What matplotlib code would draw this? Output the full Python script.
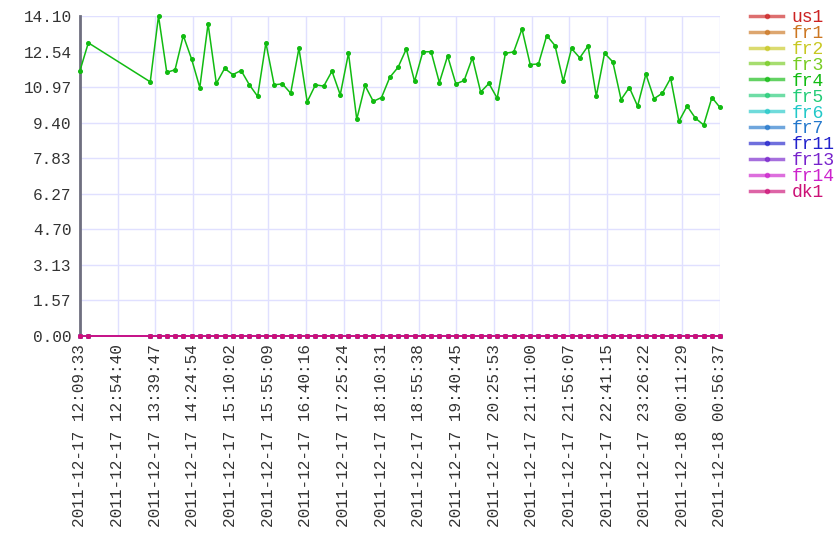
import numpy as np
import pandas as pd
import matplotlib
matplotlib.use("Agg")
import matplotlib.pyplot as plt
import matplotlib.dates as mdates

# timestamps of the samples
times = [
    "2011-12-17 12:09:33", "2011-12-17 12:19:33",
    "2011-12-17 13:33:45", "2011-12-17 13:43:39", "2011-12-17 13:53:33", "2011-12-17 14:03:27",
    "2011-12-17 14:13:21", "2011-12-17 14:23:15", "2011-12-17 14:33:09", "2011-12-17 14:43:03",
    "2011-12-17 14:52:57", "2011-12-17 15:02:51", "2011-12-17 15:12:45", "2011-12-17 15:22:39",
    "2011-12-17 15:32:33", "2011-12-17 15:42:27", "2011-12-17 15:52:21", "2011-12-17 16:02:15",
    "2011-12-17 16:12:09", "2011-12-17 16:22:03", "2011-12-17 16:31:57", "2011-12-17 16:41:51",
    "2011-12-17 16:51:45", "2011-12-17 17:01:39", "2011-12-17 17:11:33", "2011-12-17 17:21:27",
    "2011-12-17 17:31:21", "2011-12-17 17:41:15", "2011-12-17 17:51:09", "2011-12-17 18:01:03",
    "2011-12-17 18:10:57", "2011-12-17 18:20:51", "2011-12-17 18:30:45", "2011-12-17 18:40:39",
    "2011-12-17 18:50:33", "2011-12-17 19:00:27", "2011-12-17 19:10:21", "2011-12-17 19:20:15",
    "2011-12-17 19:30:09", "2011-12-17 19:40:03", "2011-12-17 19:49:57", "2011-12-17 19:59:51",
    "2011-12-17 20:09:45", "2011-12-17 20:19:39", "2011-12-17 20:29:33", "2011-12-17 20:39:27",
    "2011-12-17 20:49:21", "2011-12-17 20:59:15", "2011-12-17 21:09:09", "2011-12-17 21:19:03",
    "2011-12-17 21:28:57", "2011-12-17 21:38:51", "2011-12-17 21:48:45", "2011-12-17 21:58:39",
    "2011-12-17 22:08:33", "2011-12-17 22:18:27", "2011-12-17 22:28:21", "2011-12-17 22:38:15",
    "2011-12-17 22:48:09", "2011-12-17 22:58:03", "2011-12-17 23:07:57", "2011-12-17 23:17:51",
    "2011-12-17 23:27:45", "2011-12-17 23:37:39", "2011-12-17 23:47:33", "2011-12-17 23:57:27",
    "2011-12-18 00:07:21", "2011-12-18 00:17:15", "2011-12-18 00:27:09", "2011-12-18 00:37:03",
    "2011-12-18 00:46:57", "2011-12-18 00:56:37",
]

fr4 = [
    11.70, 12.92,
    11.20, 14.102, 11.62, 11.73, 13.24, 12.21, 10.95, 13.76, 11.13, 11.79,
    11.52, 11.70, 11.07, 10.56, 12.92, 11.07, 11.11, 10.70, 12.68, 10.32,
    11.07, 11.01, 11.67, 10.63, 12.46, 9.55, 11.04, 10.34, 10.51, 11.40,
    11.84, 12.65, 11.22, 12.52, 12.53, 11.17, 12.34, 11.11, 11.26, 12.26,
    10.75, 11.13, 10.48, 12.46, 12.52, 13.53, 11.96, 11.99, 13.24, 12.80,
    11.23, 12.67, 12.26, 12.78, 10.57, 12.46, 12.08, 10.42, 10.95, 10.13,
    11.54, 10.46, 10.70, 11.36, 9.46, 10.13, 9.60, 9.30, 10.51, 10.07,
]

zeros = [0.0] * len(times)
names = ["us1", "fr1", "fr2", "fr3", "fr4", "fr5", "fr6", "fr7", "fr11", "fr13", "fr14", "dk1"]
colors = ["#cc2222", "#cc7722", "#c8c822", "#77cc22", "#11bb11", "#22cc77",
          "#22c8c8", "#2277cc", "#2222cc", "#7722cc", "#cc22cc", "#cc1177"]
values = {n: zeros for n in names}
values["fr4"] = fr4

plt.rcParams["font.family"] = ["Liberation Mono", "DejaVu Sans Mono"]

t = pd.to_datetime(times)
x = mdates.date2num(t)

fig = plt.figure(figsize=(8.4, 5.6), dpi=100)
ax = fig.add_axes([80 / 840, 1 - 336 / 560, 640 / 840, 320 / 560])

for n, c in zip(names, colors):
    ax.plot(x, values[n], color=c, lw=1.1, marker="o", ms=2.6,
            mec=c, mfc=c, zorder=3, clip_on=False)

ymax = max(fr4)
ax.set_xlim(x[0], x[-1])
ax.set_ylim(0, ymax)
xt = np.linspace(x[0], x[-1], 18)
ax.set_xticks(xt)
ax.set_xticklabels([mdates.num2date(v).strftime("%Y-%m-%d %H:%M:%S") for v in xt],
                   rotation=90)
yt = np.linspace(0, ymax, 10)
ax.set_yticks(yt)
ax.set_yticklabels(["%.2f" % v for v in yt])
ax.tick_params(length=0, labelsize=11.6, labelcolor="#333333", pad=6)

ax.grid(True, color="#e0e0ff", lw=1)
ax.set_axisbelow(True)
for s in ["top", "right", "bottom"]:
    ax.spines[s].set_visible(False)
ax.spines["left"].set_color("#6f6f7f")
ax.spines["left"].set_linewidth(2)
ax.spines["left"].set_zorder(1)

# legend to the right of the plot
leg_handles = []
for n, c in zip(names, colors):
    h, = ax.plot([], [], color=c, alpha=0.65, lw=2.5, marker="o", ms=3,
                 mec=c, mfc=c)
    leg_handles.append(h)
leg = fig.legend(leg_handles, names, loc="upper left", bbox_to_anchor=(750 / 840, 1 - 9 / 560),
                 frameon=False, fontsize=13, handlelength=1.85, handletextpad=0.45,
                 labelspacing=-0.06, borderaxespad=0, borderpad=0)
for txt, c in zip(leg.get_texts(), colors):
    txt.set_color(c)

fig.savefig("out.png", dpi=100)
